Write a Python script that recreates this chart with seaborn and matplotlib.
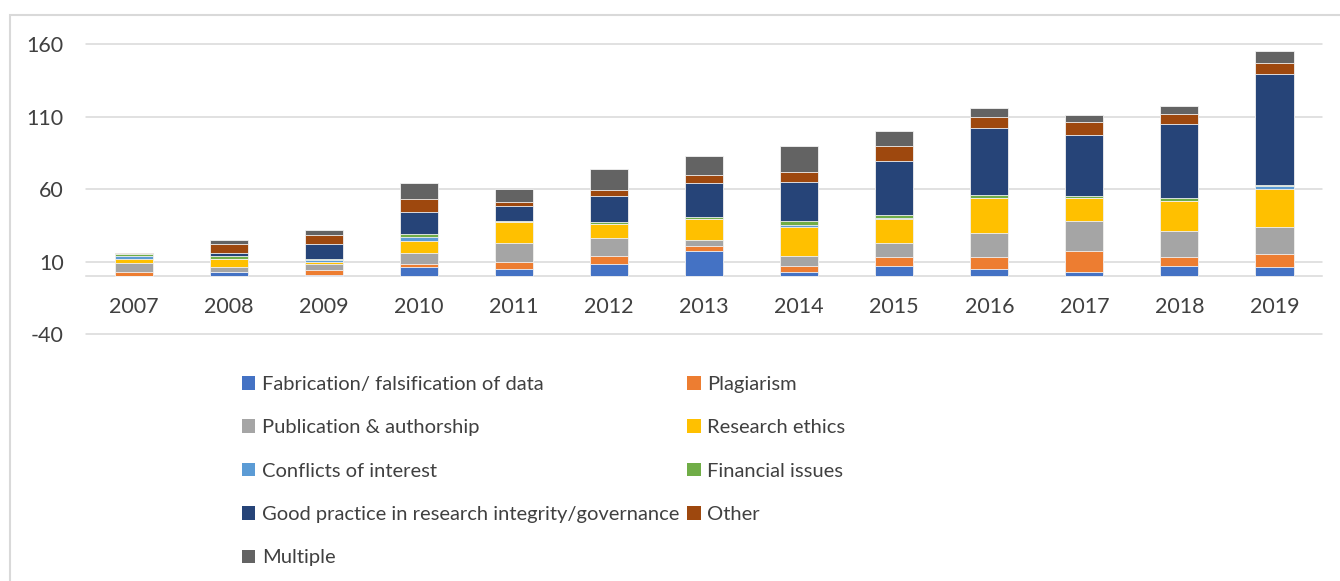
import matplotlib
matplotlib.use('Agg')
import matplotlib.pyplot as plt
from matplotlib.patches import Patch, Rectangle
import pandas as pd
import seaborn as sns

# ── data ──
years = ['2007', '2008', '2009', '2010', '2011', '2012', '2013',
         '2014', '2015', '2016', '2017', '2018', '2019']
fabrication   = [0, 3, 1, 6, 5, 8, 17, 3, 7, 5, 3, 7, 6]
plagiarism    = [3, 0, 3, 2, 5, 6, 4, 4, 6, 8, 14, 6, 9]
publication   = [6, 3, 4, 8, 13, 12, 4, 7, 10, 17, 21, 18, 19]
ethics        = [3, 6, 2, 8, 14, 10, 14, 20, 16, 24, 16, 21, 26]
conflicts     = [2, 0, 1, 3, 0, 0, 0, 1, 1, 0, 0, 0, 2]
financial     = [1, 2, 1, 2, 1, 1, 2, 3, 2, 2, 1, 2, 1]
good_practice = [0, 2, 10, 15, 10, 18, 23, 27, 37, 46, 42, 51, 76]
other         = [1, 6, 6, 9, 3, 4, 6, 7, 11, 8, 9, 7, 8]
multiple      = [0, 3, 4, 11, 9, 15, 13, 18, 10, 6, 5, 5, 8]

labels = ['Fabrication/ falsification of data', 'Plagiarism',
          'Publication & authorship', 'Research ethics',
          'Conflicts of interest', 'Financial issues',
          'Good practice in research integrity/governance', 'Other',
          'Multiple']
colors = ['#4472C4', '#ED7D31', '#A5A5A5', '#FFC000', '#5B9BD5',
          '#70AD47', '#264478', '#9E480E', '#636363']
yticks = [-40, 10, 60, 110, 160]

df = pd.DataFrame({'year': years})
for lab, vals in zip(labels, [fabrication, plagiarism, publication, ethics,
                              conflicts, financial, good_practice, other,
                              multiple]):
    df[lab] = vals
cum = df[labels].cumsum(axis=1)

# ── style ──
sns.set_style('white')
plt.rcParams['font.family'] = ['Lato', 'DejaVu Sans']
plt.rcParams['axes.unicode_minus'] = False
text_col = '#404040'
grid_col = '#D9D9D9'

fig = plt.figure(figsize=(13.4, 5.81), dpi=100)
ax = fig.add_axes([0.0642, 0.4251, 0.9224, 0.4991])

# stacked bars: draw cumulative totals from the top layer down
for lab, col in zip(reversed(labels), reversed(colors)):
    sns.barplot(x=df['year'], y=cum[lab], order=years, color=col,
                saturation=1, width=0.4, edgecolor='#F2F2F2',
                linewidth=0.6, ax=ax)

ax.set_ylim(-40, 160)
ax.set_yticks(yticks)
ax.set_xlim(-0.5, len(years) - 0.5)
ax.set_xlabel('')
ax.set_ylabel('')
ax.yaxis.grid(True, color=grid_col, linewidth=1.1)
for gl in ax.get_ygridlines():
    gl.set_clip_on(False)
ax.set_axisbelow(True)

for s in ['top', 'right', 'left']:
    ax.spines[s].set_visible(False)
ax.spines['bottom'].set_position(('data', 0))
ax.spines['bottom'].set_color(grid_col)
ax.spines['bottom'].set_linewidth(1.1)
ax.spines['bottom'].set_zorder(0.5)

ax.tick_params(axis='x', length=0, pad=15, labelsize=15.5, labelcolor=text_col)
ax.tick_params(axis='y', length=0, pad=16, labelsize=15.5, labelcolor=text_col)

# legend, filled row by row like the original (two columns)
handles = [Patch(facecolor=c, edgecolor='none') for c in colors]
order = [0, 2, 4, 6, 8, 1, 3, 5, 7]
fig.legend([handles[i] for i in order], [labels[i] for i in order],
           ncol=2, loc='upper left', bbox_to_anchor=(0.1806, 0.353),
           frameon=False, fontsize=14.5, labelcolor=text_col,
           handlelength=0.66, handleheight=0.66, handletextpad=0.33,
           columnspacing=0.4, labelspacing=1.31, borderpad=0,
           borderaxespad=0)

# light frame around the chart area
fig.patches.append(Rectangle((10 / 1340, -0.1), 1.2, 0.1 + 1 - 15 / 581,
                             transform=fig.transFigure, fill=False,
                             edgecolor=grid_col, linewidth=1.5))

fig.savefig('out.png', dpi=100)
